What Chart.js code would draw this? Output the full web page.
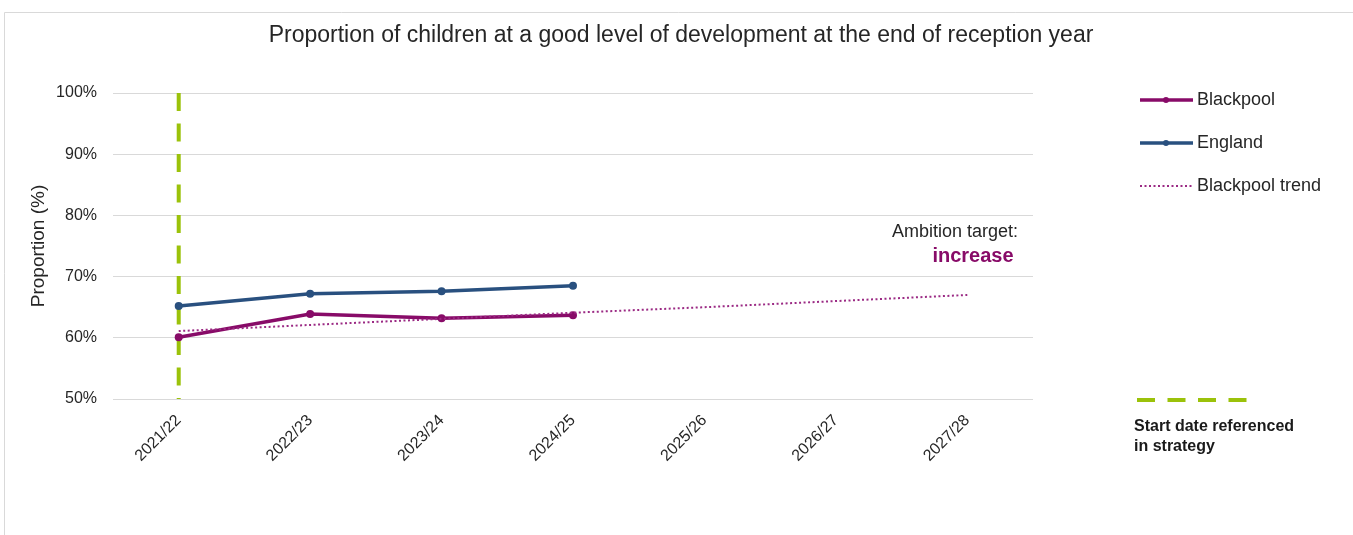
<!DOCTYPE html>
<html>
<head>
<meta charset="utf-8">
<title>Good level of development</title>
<script src="https://cdn.jsdelivr.net/npm/chart.js@4"></script>
<style>
  html, body { margin: 0; padding: 0; background: #fff; }
  #chart { display: block; }
</style>
</head>
<body>
<canvas id="chart" width="1353" height="535"></canvas>
<script>
const years = ['2021/22', '2022/23', '2023/24', '2024/25', '2025/26', '2026/27', '2027/28'];
const blackpool = [60.1, 63.9, 63.2, 63.7, null, null, null];
const england = [65.2, 67.2, 67.6, 68.5, null, null, null];
const blackpoolTrend = [61.1, 62.1, 63.1, 64.1, 65.0, 66.0, 67.0];
const startYear = '2021/22';
const yTicks = [50, 60, 70, 80, 90, 100];

const PURPLE = '#880b68';
const BLUE = '#29507f';
const TREND = '#9b2a84';
const GREEN = '#9bc20a';
const TEXT = '#262626';
const FONT = '"Liberation Sans", Arial, sans-serif';

// title, frame, annotation and the side legend are drawn by hand
const extras = {
  id: 'extras',
  beforeDraw(chart) {
    const ctx = chart.ctx;
    ctx.save();
    ctx.fillStyle = '#fff';
    ctx.fillRect(0, 0, chart.width, chart.height);
    ctx.strokeStyle = '#d9d9d9';
    ctx.lineWidth = 1;
    ctx.beginPath();
    ctx.moveTo(4.5, chart.height);
    ctx.lineTo(4.5, 12.5);
    ctx.lineTo(chart.width, 12.5);
    ctx.stroke();
    ctx.restore();
  },
  afterDraw(chart) {
    const ctx = chart.ctx;
    const area = chart.chartArea;
    ctx.save();

    ctx.fillStyle = TEXT;
    ctx.font = '23px ' + FONT;
    ctx.textAlign = 'center';
    ctx.textBaseline = 'middle';
    ctx.fillText('Proportion of children at a good level of development at the end of reception year', 681, 36);

    // ambition note
    ctx.textAlign = 'right';
    ctx.font = '18px ' + FONT;
    ctx.fillText('Ambition target:', area.right - 15, 232);
    ctx.textAlign = 'center';
    ctx.fillStyle = PURPLE;
    ctx.font = 'bold 20px ' + FONT;
    ctx.fillText('increase', 973, 256);

    // legend
    const items = [
      { label: 'Blackpool', color: PURPLE, dotted: false },
      { label: 'England', color: BLUE, dotted: false },
      { label: 'Blackpool trend', color: TREND, dotted: true }
    ];
    items.forEach((it, i) => {
      const y = 100 + i * 43;
      ctx.strokeStyle = it.color;
      ctx.beginPath();
      if (it.dotted) {
        ctx.lineWidth = 2;
        ctx.setLineDash([2, 2.5]);
      } else {
        ctx.lineWidth = 3.5;
        ctx.setLineDash([]);
      }
      ctx.moveTo(1140, y);
      ctx.lineTo(1193, y);
      ctx.stroke();
      if (!it.dotted) {
        ctx.fillStyle = it.color;
        ctx.beginPath();
        ctx.arc(1166, y, 3, 0, Math.PI * 2);
        ctx.fill();
      }
      ctx.setLineDash([]);
      ctx.fillStyle = TEXT;
      ctx.font = '18px ' + FONT;
      ctx.textAlign = 'left';
      ctx.textBaseline = 'middle';
      ctx.fillText(it.label, 1197, y);
    });

    ctx.strokeStyle = GREEN;
    ctx.lineWidth = 4;
    ctx.setLineDash([18, 12.5]);
    ctx.beginPath();
    ctx.moveTo(1137, 400);
    ctx.lineTo(1250, 400);
    ctx.stroke();
    ctx.setLineDash([]);
    ctx.fillStyle = '#1a1a1a';
    ctx.font = 'bold 16px ' + FONT;
    ctx.fillText('Start date referenced', 1134, 427);
    ctx.fillText('in strategy', 1134, 447);

    ctx.restore();
  }
};

const ctx = document.getElementById('chart').getContext('2d');
new Chart(ctx, {
  type: 'line',
  data: {
    labels: years,
    datasets: [
      {
        label: 'Blackpool',
        data: blackpool,
        borderColor: PURPLE,
        backgroundColor: PURPLE,
        borderWidth: 3.5,
        pointRadius: 4,
        pointBorderWidth: 0,
        order: 2
      },
      {
        label: 'England',
        data: england,
        borderColor: BLUE,
        backgroundColor: BLUE,
        borderWidth: 3.5,
        pointRadius: 4,
        pointBorderWidth: 0,
        order: 2
      },
      {
        label: 'Blackpool trend',
        data: blackpoolTrend,
        borderColor: TREND,
        borderWidth: 2,
        borderDash: [2, 2.5],
        pointRadius: 0,
        order: 1
      },
      {
        label: 'Start date referenced in strategy',
        data: [{ x: startYear, y: yTicks[yTicks.length - 1] }, { x: startYear, y: yTicks[0] }],
        borderColor: GREEN,
        borderWidth: 4,
        borderDash: [18, 12.5],
        pointRadius: 0,
        order: 10
      }
    ]
  },
  options: {
    responsive: false,
    animation: false,
    layout: { padding: { left: 0, top: 93, right: 320, bottom: 0 } },
    plugins: {
      legend: { display: false },
      title: { display: false },
      tooltip: { enabled: false }
    },
    scales: {
      x: {
        offset: true,
        grid: { display: false },
        border: { display: false },
        ticks: {
          minRotation: 45,
          maxRotation: 45,
          padding: 4,
          color: TEXT,
          font: { family: FONT, size: 16 }
        },
        afterFit(scale) { scale.height = 136; }
      },
      y: {
        min: yTicks[0],
        max: yTicks[yTicks.length - 1],
        grid: { color: '#d9d9d9', drawTicks: false },
        border: { display: false },
        ticks: {
          stepSize: 10,
          padding: 16,
          color: TEXT,
          font: { family: FONT, size: 16 },
          callback: v => v + '%'
        },
        title: {
          display: true,
          text: 'Proportion (%)',
          color: TEXT,
          font: { family: FONT, size: 19 },
          padding: { top: 27, bottom: 0 }
        },
        afterFit(scale) { scale.width = 113; }
      }
    }
  },
  plugins: [extras]
});
</script>
</body>
</html>
